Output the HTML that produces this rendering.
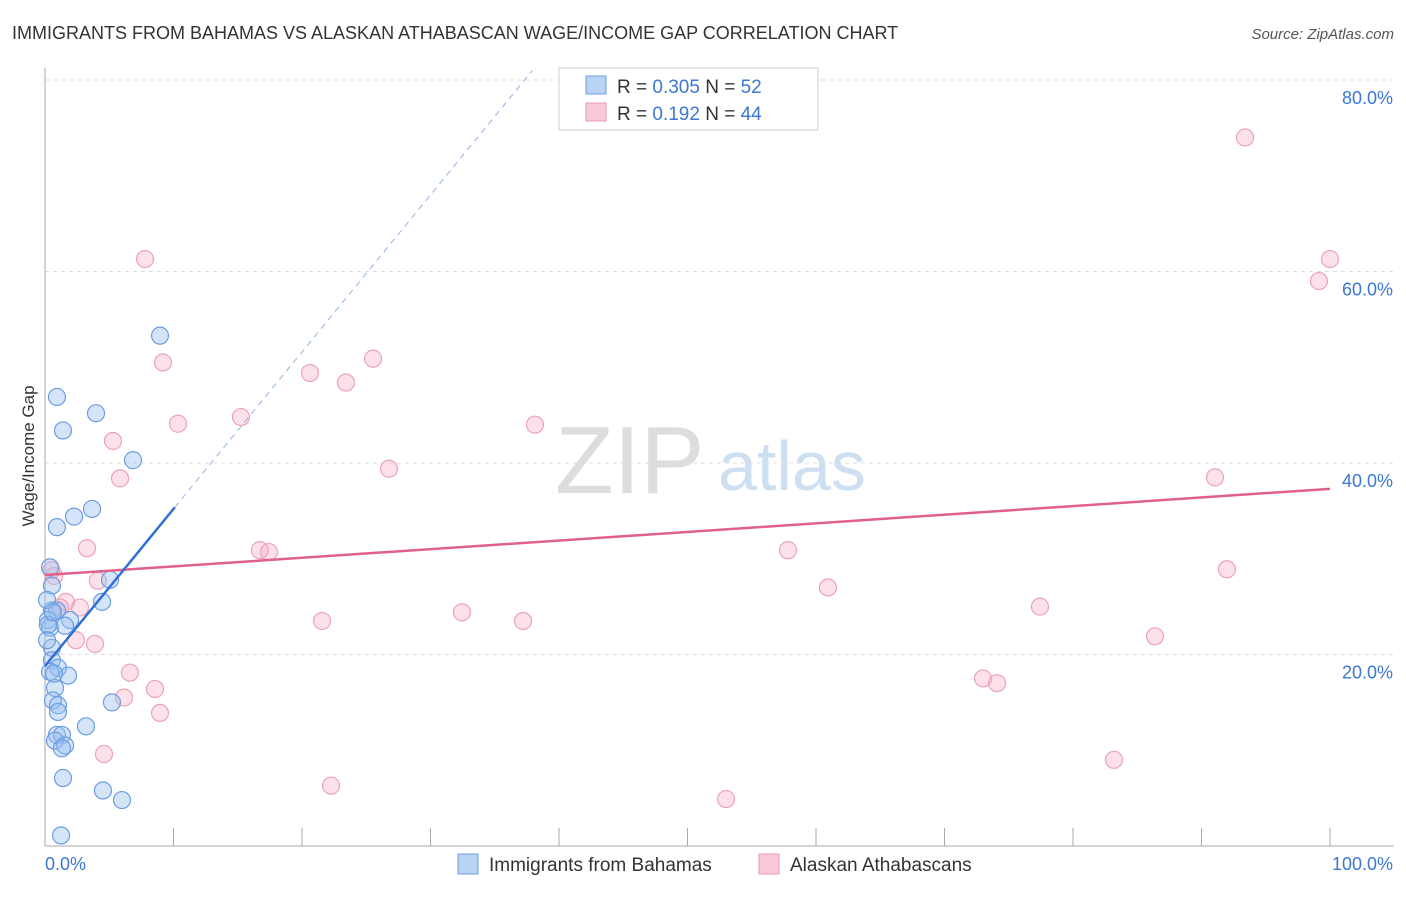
<!DOCTYPE html>
<html><head><meta charset="utf-8"><style>
body{margin:0;background:#fff;font-family:"Liberation Sans",sans-serif}
svg text{font-family:"Liberation Sans",sans-serif}
</style></head><body>
<svg id="c" width="1406" height="892" xmlns="http://www.w3.org/2000/svg">
<text x="12" y="39" font-size="18" fill="#333">IMMIGRANTS FROM BAHAMAS VS ALASKAN ATHABASCAN WAGE/INCOME GAP CORRELATION CHART</text>
<text x="1394" y="39" font-size="15" fill="#555" font-style="italic" text-anchor="end">Source: ZipAtlas.com</text>
<text transform="translate(34,456) rotate(-90)" font-size="17" fill="#333" text-anchor="middle">Wage/Income Gap</text>
<text x="555" y="493" font-size="96" fill="#ddd" font-family="Liberation Serif">ZIP</text>
<text x="718" y="490" font-size="70" fill="#cfdff2">atlas</text>
<g id="grid"></g><g id="axes"></g><g id="pts"></g><g id="lines"></g>
<g>
<rect x="559" y="68" width="259" height="62" fill="#fff" stroke="#ccc"/>
<rect x="586" y="76" width="20" height="18" fill="#b9d3f5" stroke="#6d9de0"/>
<rect x="586" y="103" width="20" height="18" fill="#f9c9d7" stroke="#e99ab2"/>
<text x="617" y="93" font-size="19" fill="#333">R = <tspan fill="#3a78d4">0.305</tspan>   N = <tspan fill="#3a78d4">52</tspan></text>
<text x="617" y="120" font-size="19" fill="#333">R =  <tspan fill="#3a78d4">0.192</tspan>   N = <tspan fill="#3a78d4">44</tspan></text>
</g>
<g>
<rect x="458" y="854" width="20" height="20" fill="#b9d3f5" stroke="#6d9de0"/>
<text x="489" y="871" font-size="19" fill="#333">Immigrants from Bahamas</text>
<rect x="759" y="854" width="20" height="20" fill="#f9c9d7" stroke="#e99ab2"/>
<text x="790" y="871" font-size="19" fill="#333">Alaskan Athabascans</text>
</g>
</svg>
<script>
const yTicks=[20,40,60,80];
const yTickLabels=["20.0%","40.0%","60.0%","80.0%"];
const xEndLabels=["0.0%","100.0%"];
const blueX=[0.93,3.97,1.40,6.85,8.95,3.66,2.26,0.93,0.39,0.54,5.06,4.44,0.54,0.93,0.23,0.39,1.95,1.56,0.54,0.54,1.01,1.79,0.39,0.78,0.62,1.01,1.01,3.19,0.93,1.32,0.78,1.56,1.32,5.21,1.40,4.51,5.99,1.25,0.16,0.16,0.70,0.23,0.62];
const blueY=[46.9,45.2,43.4,40.3,53.3,35.2,34.4,33.3,29.1,27.2,27.8,25.5,24.6,24.6,23.6,22.8,23.6,23.0,20.7,19.4,18.6,17.8,18.2,16.5,15.2,14.7,14.0,12.5,11.6,11.6,11.0,10.5,10.2,15.0,7.1,5.8,4.8,1.1,25.7,21.5,18.0,23.1,24.4];
const pinkX=[7.78,9.18,10.35,5.29,5.84,3.27,0.70,4.12,1.63,2.72,1.17,2.41,3.89,6.61,8.56,6.15,8.95,4.59,15.25,16.73,17.43,20.62,23.42,25.53,26.77,21.56,22.26,32.45,37.20,38.13,53.0,57.82,60.93,73.0,74.09,77.43,83.19,86.38,91.05,91.98,93.39,99.14,100,0.5];
const pinkY=[61.3,50.5,44.1,42.3,38.4,31.1,28.2,27.7,25.5,24.9,24.9,21.5,21.1,18.1,16.4,15.5,13.9,9.6,44.8,30.9,30.7,49.4,48.4,50.9,39.4,23.5,6.3,24.4,23.5,44.0,4.9,30.9,27.0,17.5,17.0,25.0,9.0,21.9,38.5,28.9,74.0,59.0,61.3,28.8];
const blueFit=[18.8,1.64];   // intercept, slope
const pinkFit=[28.3,0.09];
const NS="http://www.w3.org/2000/svg";
const X=v=>45+v*12.85, Y=v=>846-v*9.575;
function mk(t,a,p){const e=document.createElementNS(NS,t);for(const k in a)e.setAttribute(k,a[k]);p.appendChild(e);return e;}
const g=document.getElementById('grid'),ax=document.getElementById('axes'),pts=document.getElementById('pts'),ln=document.getElementById('lines');
yTicks.forEach((t,i)=>{
 const l=mk('line',{x1:45,x2:1394,y1:Y(t),y2:Y(t),stroke:'#ddd','stroke-dasharray':'4 4'},g);
 
 
 const tx=mk('text',{x:1393,y:Y(t)+24,'font-size':18,fill:'#3a78d4','text-anchor':'end'},ax);
 tx.textContent=yTickLabels[i];
 
 
});
const a1=mk('line',{x1:45,x2:45,y1:68,y2:846,stroke:'#aaa'},ax);


const a2=mk('line',{x1:45,x2:1394,y1:846,y2:846,stroke:'#aaa'},ax);


for(let i=1;i<=10;i++){const t=mk('line',{x1:X(i*10),x2:X(i*10),y1:828,y2:846,stroke:'#aaa'},ax);
 
 }
const xl0=mk('text',{x:45,y:870,'font-size':18,fill:'#3a78d4'},ax);xl0.textContent=xEndLabels[0];


const xl1=mk('text',{x:1393,y:870,'font-size':18,fill:'#3a78d4','text-anchor':'end'},ax);xl1.textContent=xEndLabels[1];


pinkX.forEach((x,i)=>{const c=mk('circle',{cx:X(x),cy:Y(pinkY[i]),r:8.5,fill:'rgba(245,170,195,0.35)',stroke:'#eba3ba','stroke-width':1.2},pts);
 
 });
blueX.forEach((x,i)=>{const c=mk('circle',{cx:X(x),cy:Y(blueY[i]),r:8.5,fill:'rgba(150,190,240,0.4)',stroke:'#6d9de0','stroke-width':1.2},pts);
 
 });
const pl=mk('line',{x1:X(0),y1:Y(pinkFit[0]),x2:X(100),y2:Y(pinkFit[0]+pinkFit[1]*100),stroke:'#e0608a','stroke-width':2.5},ln);


const bl=mk('line',{x1:X(0),y1:Y(blueFit[0]),x2:X(10.1),y2:Y(blueFit[0]+blueFit[1]*10.1),stroke:'#2f6fd6','stroke-width':2.5},ln);


const xe=(81-blueFit[0])/blueFit[1];
const bd=mk('line',{x1:X(10.1),y1:Y(blueFit[0]+blueFit[1]*10.1),x2:X(xe),y2:Y(81),stroke:'#8fb3e6','stroke-width':1,'stroke-dasharray':'6 5'},ln);


</script>
</body></html>
